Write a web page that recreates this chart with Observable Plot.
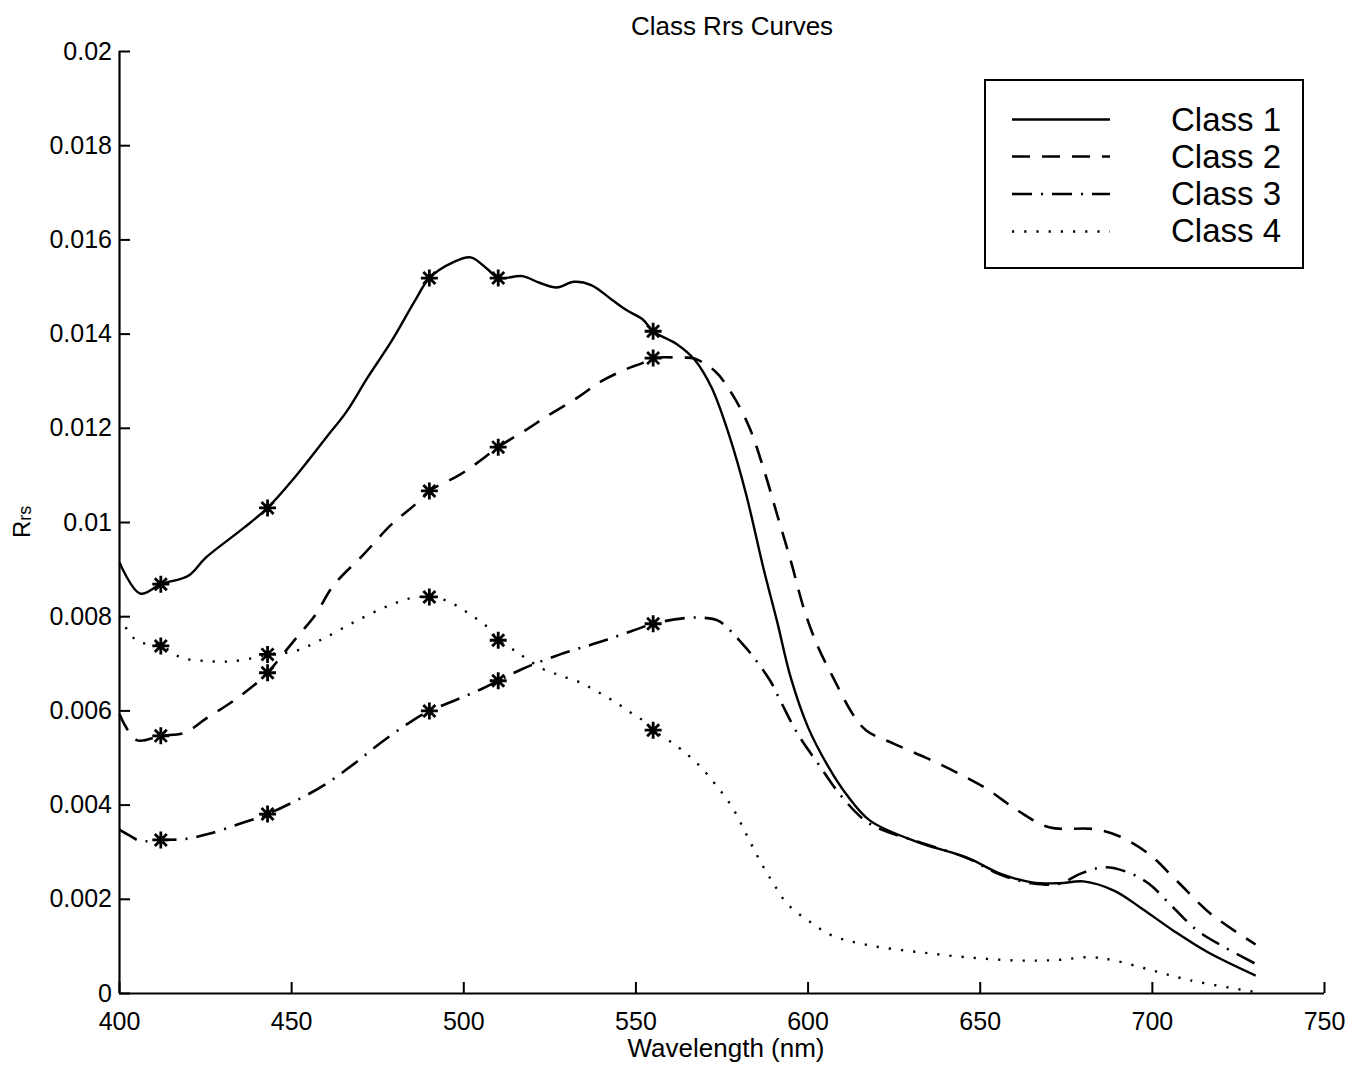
<!DOCTYPE html>
<html>
<head>
<meta charset="utf-8">
<script src="https://cdn.jsdelivr.net/npm/d3@7"></script>
<script src="https://cdn.jsdelivr.net/npm/@observablehq/plot@0.6"></script>
<style>
  body { margin: 0; background: #fff; }
  #chart svg { display: block; }
</style>
</head>
<body>
<div id="chart"></div>
<script>
// ---- data ----
const bands = [412, 443, 490, 510, 555];
const classNames = ["Class 1", "Class 2", "Class 3", "Class 4"];
const xTicks = [400, 450, 500, 550, 600, 650, 700, 750];
const yTicks = [0, 0.002, 0.004, 0.006, 0.008, 0.01, 0.012, 0.014, 0.016, 0.018, 0.02];
const titleText = "Class Rrs Curves";
const xLabelText = "Wavelength (nm)";

const class1 = [[400,0.00915],[406,0.00849],[412,0.00869],[420,0.00887],[425,0.00925],[436,0.00988],[443,0.01031],[450,0.01088],[460,0.01180],[466,0.01236],[472,0.01307],[479,0.01385],[486,0.01473],[490,0.01519],[497,0.01553],[502,0.01563],[507,0.01537],[510,0.01519],[517,0.01523],[522,0.01509],[527,0.01499],[532,0.01511],[537,0.01504],[543,0.01473],[547,0.01452],[552,0.01431],[555,0.01406],[562,0.01378],[567,0.01346],[572,0.01286],[577,0.01187],[582,0.01060],[587,0.00904],[591,0.00790],[595,0.00670],[600,0.00565],[606,0.00480],[611,0.00424],[618,0.00367],[632,0.00321],[646,0.00289],[656,0.00254],[665,0.00236],[673,0.00234],[680,0.00238],[689,0.00218],[697,0.00180],[706,0.00134],[716,0.00088],[730,0.00038]];

const class2 = [[400,0.00593],[405,0.00538],[412,0.00547],[419,0.00554],[425,0.00583],[433,0.00621],[440,0.00660],[443,0.00681],[451,0.00752],[457,0.00805],[462,0.00865],[471,0.00933],[479,0.00996],[486,0.01039],[490,0.01067],[499,0.01102],[506,0.01138],[510,0.01160],[519,0.01201],[524,0.01225],[533,0.01265],[540,0.01300],[547,0.01325],[552,0.01339],[555,0.01349],[563,0.01350],[567,0.01348],[573,0.01321],[578,0.01272],[583,0.01201],[587,0.01116],[591,0.01017],[595,0.00918],[599,0.00812],[603,0.00734],[607,0.00675],[613,0.00593],[617,0.00558],[625,0.00530],[635,0.00498],[644,0.00466],[652,0.00434],[661,0.00388],[670,0.00353],[683,0.00349],[690,0.00335],[699,0.00296],[707,0.00240],[717,0.00169],[730,0.00104]];

const class3 = [[400,0.00348],[403,0.00335],[406,0.00324],[412,0.00326],[419,0.00328],[426,0.00339],[436,0.00363],[443,0.00381],[453,0.00416],[460,0.00445],[468,0.00487],[476,0.00533],[485,0.00579],[490,0.00600],[497,0.00621],[505,0.00646],[510,0.00664],[517,0.00689],[528,0.00720],[539,0.00745],[549,0.00770],[555,0.00785],[563,0.00796],[569,0.00798],[574,0.00791],[581,0.00742],[585,0.00706],[589,0.00664],[592,0.00621],[597,0.00551],[603,0.00487],[610,0.00416],[618,0.00360],[632,0.00322],[646,0.00288],[656,0.00252],[665,0.00234],[673,0.00233],[679,0.00254],[686,0.00268],[693,0.00257],[699,0.00233],[706,0.00183],[713,0.00134],[721,0.00098],[730,0.00063]];

const class4 = [[400,0.00800],[405,0.00749],[412,0.00738],[418,0.00713],[425,0.00706],[432,0.00705],[440,0.00714],[443,0.00720],[451,0.00727],[458,0.00749],[468,0.00788],[478,0.00823],[485,0.00840],[490,0.00842],[495,0.00834],[501,0.00809],[507,0.00777],[510,0.00750],[515,0.00727],[518,0.00712],[523,0.00689],[527,0.00678],[530,0.00670],[534,0.00660],[537,0.00648],[540,0.00636],[543,0.00623],[546,0.00609],[549,0.00594],[552,0.00580],[555,0.00559],[560,0.00535],[563,0.00519],[568,0.00487],[573,0.00445],[578,0.00395],[582,0.00339],[586,0.00282],[590,0.00233],[594,0.00190],[600,0.00155],[607,0.00123],[618,0.00102],[632,0.00088],[646,0.00077],[661,0.00070],[672,0.00071],[682,0.00077],[689,0.00070],[700,0.00049],[711,0.00028],[730,0.00003]];

// ---- styling ----
const FONT = "'Liberation Sans', Arial, Helvetica, sans-serif";
const series = [class1, class2, class3, class4];
const lineStyles = [
  {strokeWidth: 2.4, strokeDasharray: null},
  {strokeWidth: 2.6, strokeDasharray: "18,12"},
  {strokeWidth: 2.6, strokeDasharray: "20,9,2,9"},
  {strokeWidth: 2.4, strokeDasharray: "2.2,10"}
];

const toRows = (arr, name) => arr.map(([wl, rrs]) => ({cls: name, wl, rrs}));
const rowsByClass = series.map((s, i) => toRows(s, classNames[i]));
const markerRows = rowsByClass.flatMap(rows => rows.filter(d => bands.includes(d.wl)));

const asterisk = {
  draw(ctx, size) {
    const r = Math.sqrt(size / Math.PI);
    for (let k = 0; k < 4; k++) {
      const a = k * Math.PI / 4;
      const dx = r * Math.cos(a), dy = r * Math.sin(a);
      ctx.moveTo(-dx, -dy);
      ctx.lineTo(dx, dy);
    }
  }
};

const TICK = 11;

const chart = Plot.plot({
  width: 1349,
  height: 1070,
  marginLeft: 119,
  marginRight: 25,
  marginTop: 51,
  marginBottom: 77,
  style: {fontFamily: FONT, color: "#000", background: "#fff", overflow: "visible"},
  x: {domain: [400, 750], label: null},
  y: {domain: [0, 0.02], label: null},
  marks: [
    Plot.axisX({ticks: xTicks, tickSize: -TICK, tickPadding: 30, fontSize: 25, strokeWidth: 2, tickFormat: d => String(d), label: null}),
    Plot.axisY({ticks: yTicks, tickSize: -TICK, tickPadding: 18.5, fontSize: 25, strokeWidth: 2, tickFormat: d => String(+d.toFixed(3)), label: null}),
    Plot.ruleX([400], {stroke: "#000", strokeWidth: 2.2}),
    Plot.ruleY([0], {stroke: "#000", strokeWidth: 2.2}),
    ...rowsByClass.map((rows, i) => Plot.line(rows, {
      x: "wl", y: "rrs", stroke: "#000", curve: "catmull-rom",
      strokeWidth: lineStyles[i].strokeWidth,
      strokeDasharray: lineStyles[i].strokeDasharray,
      strokeLinecap: "butt", strokeLinejoin: "round"
    })),
    Plot.dot(markerRows, {x: "wl", y: "rrs", symbol: asterisk, r: 8.5, fill: "none", stroke: "#000", strokeWidth: 2.8})
  ]
});

document.getElementById("chart").appendChild(chart);

// ---- title, axis labels, legend ----
const svg = d3.select(chart);

svg.append("text")
  .attr("x", 732).attr("y", 35)
  .attr("text-anchor", "middle")
  .attr("font-family", FONT).attr("font-size", 26).attr("fill", "#000")
  .text(titleText);

svg.append("text")
  .attr("x", 726).attr("y", 1057)
  .attr("text-anchor", "middle")
  .attr("font-family", FONT).attr("font-size", 26).attr("fill", "#000")
  .text(xLabelText);

const yl = svg.append("text")
  .attr("transform", "translate(30,538) rotate(-90)")
  .attr("text-anchor", "start")
  .attr("font-family", FONT).attr("font-size", 24).attr("fill", "#000");
yl.append("tspan").text("R");
yl.append("tspan").attr("font-size", 18).attr("dy", 1).text("rs");

const lg = svg.append("g").attr("text-anchor", "start");
lg.append("rect")
  .attr("x", 985).attr("y", 80).attr("width", 318).attr("height", 188)
  .attr("fill", "#fff").attr("stroke", "#000").attr("stroke-width", 2);
const sampleY = [119.5, 156.5, 194, 231.5];
const textY = [131, 168, 205, 242];
classNames.forEach((name, i) => {
  lg.append("line")
    .attr("x1", 1012).attr("x2", 1110)
    .attr("y1", sampleY[i]).attr("y2", sampleY[i])
    .attr("stroke", "#000")
    .attr("stroke-width", lineStyles[i].strokeWidth)
    .attr("stroke-dasharray", lineStyles[i].strokeDasharray);
  lg.append("text")
    .attr("x", 1171).attr("y", textY[i])
    .attr("text-anchor", "start")
    .attr("font-family", FONT).attr("font-size", 33).attr("fill", "#000")
    .text(name);
});
</script>
</body>
</html>
